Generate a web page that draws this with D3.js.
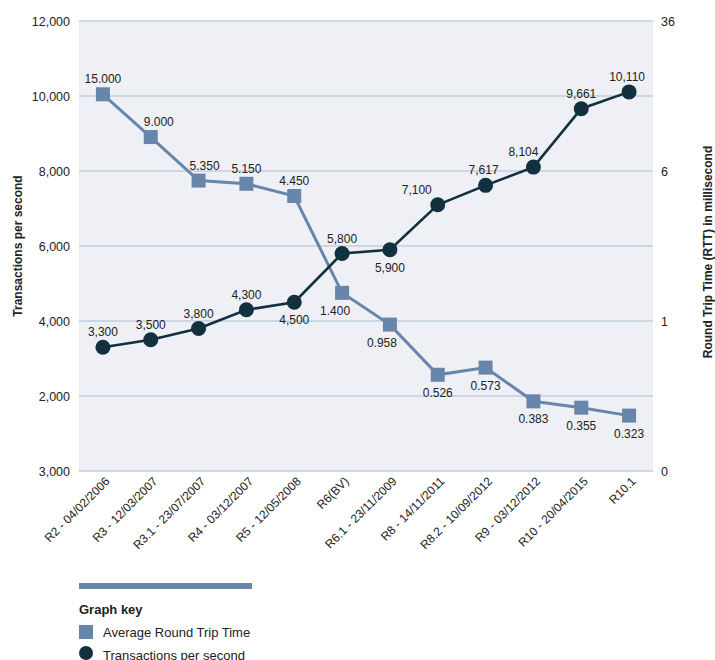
<!DOCTYPE html>
<html>
<head>
<meta charset="utf-8">
<script src="https://cdn.jsdelivr.net/npm/d3@7"></script>
<style>
  body { margin: 0; background: #fff; }
  text { font-family: "Liberation Sans", Arial, sans-serif; fill: #222; }
</style>
</head>
<body>
<div id="chart"></div>
<script>
var releases = ["R2 - 04/02/2006", "R3 - 12/03/2007", "R3.1 - 23/07/2007", "R4 - 03/12/2007",
    "R5 - 12/05/2008", "R6(BV)", "R6.1 - 23/11/2009", "R8 - 14/11/2011", "R8.2 - 10/09/2012",
    "R9 - 03/12/2012", "R10 - 20/04/2015", "R10.1"];
var rtt = [15.000, 9.000, 5.350, 5.150, 4.450, 1.400, 0.958, 0.526, 0.573, 0.383, 0.355, 0.323];
var tps = [3300, 3500, 3800, 4300, 4500, 5800, 5900, 7100, 7617, 8104, 9661, 10110];
var leftTicks = [0, 2000, 4000, 6000, 8000, 10000, 12000];
var leftTickLabels = ["3,000", "2,000", "4,000", "6,000", "8,000", "10,000", "12,000"];
var rightTicks = [0, 1, 6, 36];

// label placement: 1 = above, -1 = below, plus a small sideways nudge
var rttSide = [1, 1, 1, 1, 1, -1, -1, -1, -1, -1, -1, -1];
var rttNudge = [0, 8, 6, 0, 0, -7, -8, 0, 0, 0, 0, 0];
var tpsSide = [1, 1, 1, 1, -1, 1, -1, 1, 1, 1, 1, 1];
var tpsNudge = [0, 0, 0, 0, 0, 0, 0, -21, -2, -10, 0, -2];

var svgWidth = 715;
var svgHeight = 660;
var margin = { top: 21, right: 62, bottom: 189, left: 79 };
var width = svgWidth - margin.left - margin.right;
var height = svgHeight - margin.top - margin.bottom;

var svg = d3.select("#chart")
    .append("svg")
    .attr("width", svgWidth)
    .attr("height", svgHeight);

var chartGroup = svg.append("g")
    .attr("transform", `translate(${margin.left}, ${margin.top})`);

var x = d3.scalePoint()
    .domain(releases)
    .range([0, width])
    .padding(0.5);

var yLeft = d3.scaleLinear()
    .domain([0, 12000])
    .range([height, 0]);

// right axis is logarithmic (base 6), the bottom "0" sits at 1/6
var yRight = d3.scaleLog()
    .base(6)
    .domain([1 / 6, 36])
    .range([height, 0])
    .clamp(true);

chartGroup.append("rect")
    .attr("width", width)
    .attr("height", height)
    .attr("fill", "#eef0f5");

chartGroup.selectAll(".grid")
    .data(leftTicks)
    .enter()
    .append("line")
    .attr("x1", 0)
    .attr("x2", width)
    .attr("y1", d => yLeft(d))
    .attr("y2", d => yLeft(d))
    .attr("stroke", "#c2cee0")
    .attr("stroke-width", 1.3);

var leftAxis = d3.axisLeft(yLeft)
    .tickValues(leftTicks)
    .tickSize(0)
    .tickPadding(9)
    .tickFormat((d, i) => leftTickLabels[i]);

chartGroup.append("g")
    .call(leftAxis)
    .call(g => g.select(".domain").remove())
    .selectAll("text")
    .style("font-size", "12.5px")
    .attr("fill", "#222");

var rightAxis = d3.axisRight(yRight)
    .tickValues(rightTicks)
    .tickSize(0)
    .tickPadding(8)
    .tickFormat(d3.format("d"));

chartGroup.append("g")
    .attr("transform", `translate(${width}, 0)`)
    .call(rightAxis)
    .call(g => g.select(".domain").remove())
    .selectAll("text")
    .style("font-size", "12.5px")
    .attr("fill", "#222");

var bottomAxis = d3.axisBottom(x).tickSize(0).tickPadding(0);

chartGroup.append("g")
    .attr("transform", `translate(0, ${height})`)
    .call(bottomAxis)
    .call(g => g.select(".domain").remove())
    .selectAll("text")
    .style("font-size", "12px")
    .attr("fill", "#222")
    .attr("text-anchor", "end")
    .attr("dy", 0)
    .attr("transform", "translate(7, 11) rotate(-45)");

// RTT series
var rttLine = d3.line()
    .x((d, i) => x(releases[i]))
    .y(d => yRight(d));

chartGroup.append("path")
    .datum(rtt)
    .attr("fill", "none")
    .attr("stroke", "#6886aa")
    .attr("stroke-width", 3)
    .attr("d", rttLine);

chartGroup.selectAll(".rttMark")
    .data(rtt)
    .enter()
    .append("rect")
    .attr("x", (d, i) => x(releases[i]) - 7)
    .attr("y", d => yRight(d) - 7)
    .attr("width", 14)
    .attr("height", 14)
    .attr("fill", "#6886aa");

// transactions series
var tpsLine = d3.line()
    .x((d, i) => x(releases[i]))
    .y(d => yLeft(d));

chartGroup.append("path")
    .datum(tps)
    .attr("fill", "none")
    .attr("stroke", "#13303f")
    .attr("stroke-width", 2.6)
    .attr("d", tpsLine);

chartGroup.selectAll(".tpsMark")
    .data(tps)
    .enter()
    .append("circle")
    .attr("cx", (d, i) => x(releases[i]))
    .attr("cy", d => yLeft(d))
    .attr("r", 7.5)
    .attr("fill", "#13303f");

// value labels
chartGroup.selectAll(".rttText")
    .data(rtt)
    .enter()
    .append("text")
    .attr("x", (d, i) => x(releases[i]) + rttNudge[i])
    .attr("y", (d, i) => yRight(d) + (rttSide[i] > 0 ? -11 : 22))
    .attr("text-anchor", "middle")
    .style("font-size", "12px")
    .text(d => d3.format(".3f")(d));

chartGroup.selectAll(".tpsText")
    .data(tps)
    .enter()
    .append("text")
    .attr("x", (d, i) => x(releases[i]) + tpsNudge[i])
    .attr("y", (d, i) => yLeft(d) + (tpsSide[i] > 0 ? -11 : 22))
    .attr("text-anchor", "middle")
    .style("font-size", "12px")
    .text(d => d3.format(",")(d));

// axis titles
svg.append("text")
    .attr("transform", `translate(22, ${margin.top + height / 2}) rotate(-90)`)
    .attr("text-anchor", "middle")
    .style("font-size", "12px")
    .style("font-weight", "bold")
    .text("Transactions per second");

svg.append("text")
    .attr("transform", `translate(712, ${margin.top + height / 2 + 6}) rotate(-90)`)
    .attr("text-anchor", "middle")
    .style("font-size", "12px")
    .style("font-weight", "bold")
    .text("Round Trip Time (RTT) in millisecond");

// graph key
var key = svg.append("g").attr("transform", "translate(79, 583)");

key.append("rect")
    .attr("width", 173)
    .attr("height", 6)
    .attr("fill", "#6886aa");

key.append("text")
    .attr("y", 31)
    .style("font-size", "13px")
    .style("font-weight", "bold")
    .text("Graph key");

key.append("rect")
    .attr("y", 42)
    .attr("width", 14)
    .attr("height", 14)
    .attr("fill", "#6886aa");

key.append("text")
    .attr("x", 24)
    .attr("y", 54)
    .style("font-size", "13px")
    .text("Average Round Trip Time");

key.append("circle")
    .attr("cx", 7)
    .attr("cy", 70)
    .attr("r", 7)
    .attr("fill", "#13303f");

key.append("text")
    .attr("x", 24)
    .attr("y", 77)
    .style("font-size", "13px")
    .text("Transactions per second");
</script>
</body>
</html>
